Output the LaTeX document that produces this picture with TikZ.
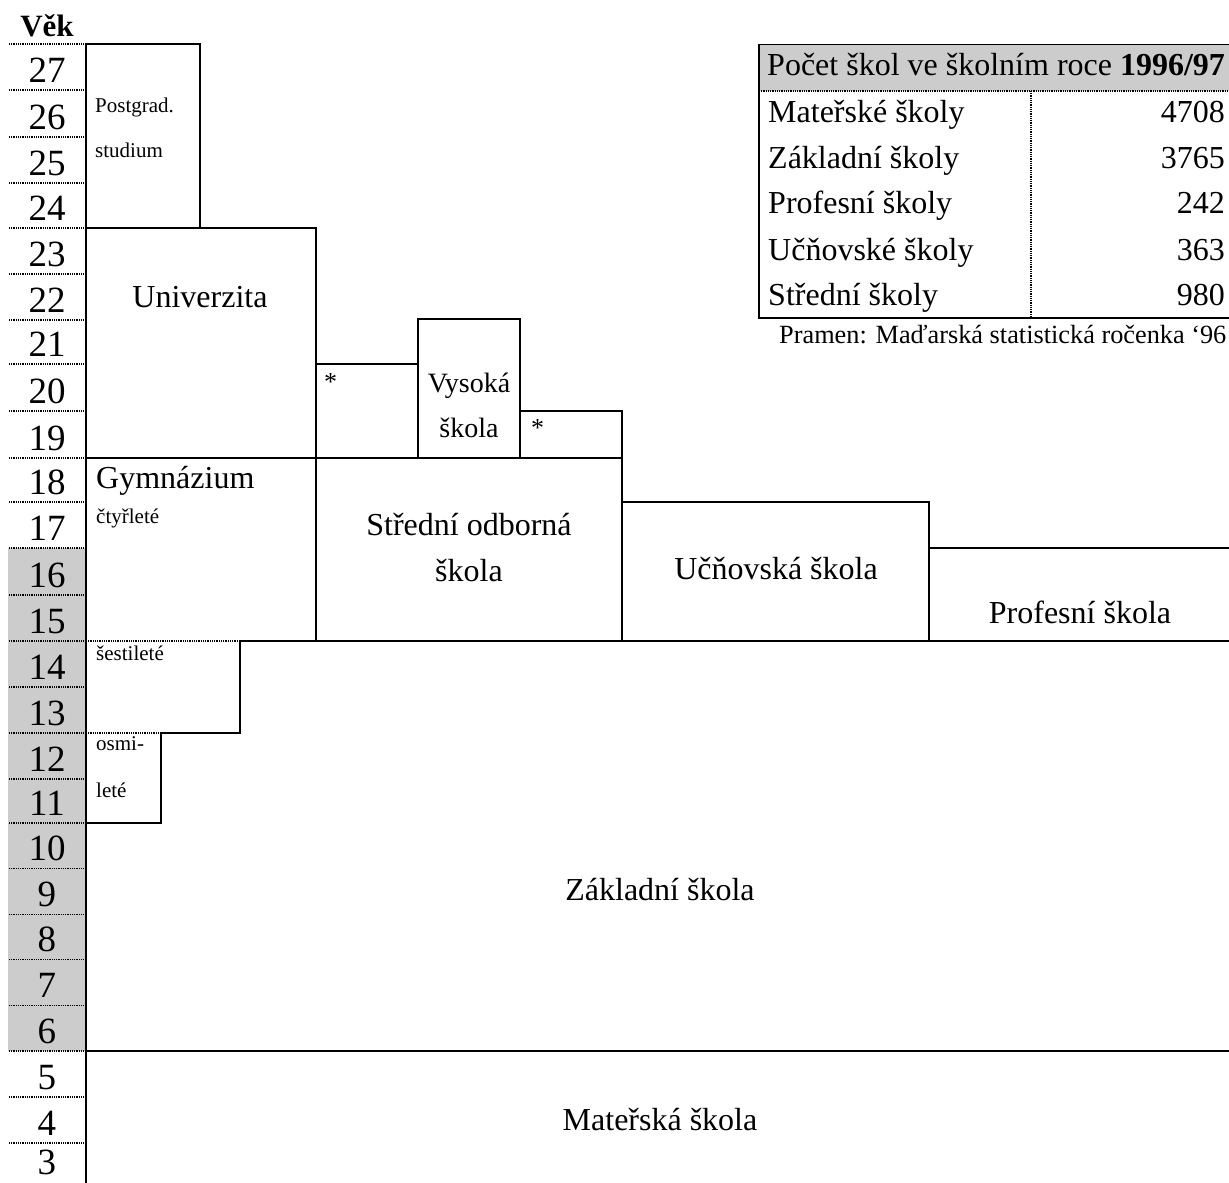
\documentclass[tikz,border=0pt]{standalone}
\usepackage{fontspec}
\setmainfont{Liberation Serif}
\begin{document}
\begin{tikzpicture}[x=1pt,y=-1pt,
  solid line/.style={line width=1.3pt},
  dot line/.style={line width=1.3pt, dash pattern=on 0.9pt off 0.9pt},
  agelbl/.style={anchor=base, inner sep=0pt, font=\fontsize{37}{42}\selectfont},
  biglbl/.style={anchor=base, inner sep=0pt, font=\fontsize{32}{38}\selectfont},
  smalllbl/.style={anchor=base west, inner sep=0pt, font=\fontsize{21}{25}\selectfont},
  starlbl/.style={anchor=north west, inner sep=0pt, font=\fontsize{26}{30}\selectfont},
  tbllbl/.style={anchor=base west, inner sep=0pt, font=\fontsize{32}{37}\selectfont},
  tblnum/.style={anchor=base east, inner sep=0pt, font=\fontsize{32}{37}\selectfont}]
\definecolor{lgray}{HTML}{CCCCCC}
\useasboundingbox (0,0) rectangle (1229,1183);
% gray band for ages 6-16
\fill[lgray] (8,548) rectangle (86,1051);
% age row boundaries and labels
\foreach \y in {44,90,137,183,228,274,320,364,411,458,502,548,595,641,687,733,779,823,868.6,914.2,959.8,1005.4,1051,1097,1143} {
  \draw[dot line] (9,\y) -- (86,\y);
}
\foreach \y/\a in {90/27,137/26,183/25,228/24,274/23,320/22,364/21,411/20,458/19,502/18,548/17,595/16,641/15,687/14,733/13,779/12,823/11,868.6/10,914.2/9,959.8/8,1005.4/7,1051/6,1097/5,1143/4,1182/3} {
  \node[agelbl] (a\a) at (47,\y-8) {\a};
}
\node[anchor=base, inner sep=0pt, font=\fontsize{31}{36}\selectfont\bfseries] (vek) at (47,36) {Věk};
% axis
\draw[solid line] (86,44) -- (86,1183);
% Postgrad
\draw[solid line] (86,44) -- (200,44) -- (200,228);
% Univerzita and upper blocks
\draw[solid line] (86,228) -- (316,228) -- (316,641);
\draw[solid line] (316,364) -- (418,364);
\draw[solid line] (418,458) -- (418,319) -- (520,319) -- (520,458);
\draw[solid line] (520,411) -- (622,411) -- (622,641);
\draw[solid line] (86,458) -- (622,458);
\draw[solid line] (622,502) -- (929,502) -- (929,641);
\draw[solid line] (929,548) -- (1229,548);
\draw[dot line] (86,641) -- (240,641);
\draw[solid line] (240,641) -- (1229,641);
\draw[solid line] (240,641) -- (240,733) -- (161,733);
\draw[dot line] (86,733) -- (161,733);
\draw[solid line] (161,733) -- (161,823) -- (86,823);
\draw[solid line] (86,1051) -- (1229,1051);
% labels
\node[smalllbl] (pg1) at (95,112) {Postgrad.};
\node[smalllbl] (pg2) at (95,157) {studium};
\node[biglbl] (univ) at (200,307) {Univerzita};
\node[starlbl] (st1) at (324,373) {*};
\node[starlbl] (st2) at (531,419) {*};
\node[anchor=base, inner sep=0pt, font=\fontsize{28}{34}\selectfont] (vs1) at (469,392) {Vysoká};
\node[anchor=base, inner sep=0pt, font=\fontsize{28}{34}\selectfont] (vs2) at (469,437) {škola};
\node[anchor=base west, inner sep=0pt, font=\fontsize{32}{38}\selectfont] (gym) at (96,488) {Gymnázium};
\node[smalllbl] (ctyr) at (96,523) {čtyřleté};
\node[biglbl] (sos1) at (469,535) {Střední odborná};
\node[biglbl] (sos2) at (469,581) {škola};
\node[biglbl] (ucn) at (776,579) {Učňovská škola};
\node[biglbl] (prof) at (1080,623) {Profesní škola};
\node[smalllbl] (sest) at (96,660) {šestileté};
\node[smalllbl] (osm1) at (96,750) {osmi-};
\node[smalllbl] (osm2) at (96,797) {leté};
\node[biglbl] (zakl) at (660,900) {Základní škola};
\node[biglbl] (mat) at (660,1130) {Mateřská škola};
% table
\fill[lgray] (759,44) rectangle (1229,91);
\draw[line width=0.7pt] (759,44) -- (1229,44);
\draw[dot line] (759,91) -- (1229,91);
\draw[dot line] (1031,91) -- (1031,318);
\draw[line width=2pt] (759,44) -- (759,318) -- (1229,318);
\node[tbllbl] (th) at (767,75) {Počet škol ve školním roce \textbf{1996/97}};
\node[tbllbl] (t1) at (768,122) {Mateřské školy};
\node[tbllbl] (t2) at (768,168) {Základní školy};
\node[tbllbl] (t3) at (768,213) {Profesní školy};
\node[tbllbl] (t4) at (768,260) {Učňovské školy};
\node[tbllbl] (t5) at (768,305) {Střední školy};
\node[tblnum] (n1) at (1225,122) {4708};
\node[tblnum] (n2) at (1225,168) {3765};
\node[tblnum] (n3) at (1225,213) {242};
\node[tblnum] (n4) at (1225,260) {363};
\node[tblnum] (n5) at (1225,305) {980};
\node[anchor=base west, inner sep=0pt, font=\fontsize{26.3}{30}\selectfont] (src) at (779,343) {Pramen: Maďarská statistická ročenka ‘96};
\end{tikzpicture}
\end{document}
